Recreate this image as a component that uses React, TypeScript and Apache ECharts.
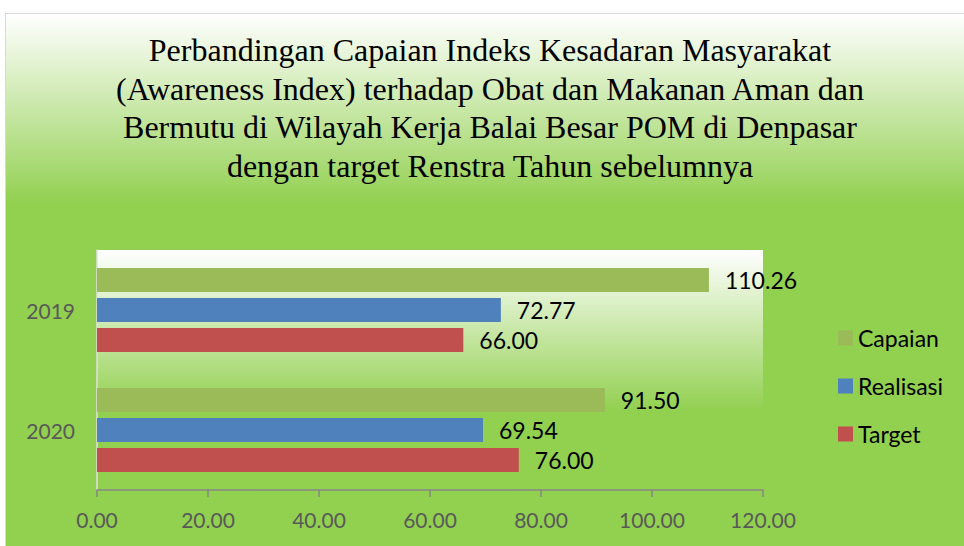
import React, { useEffect, useRef } from "react";
import * as echarts from "echarts";

const titleLines = [
  "Perbandingan Capaian Indeks Kesadaran Masyarakat",
  "(Awareness Index) terhadap Obat dan Makanan Aman dan",
  "Bermutu di Wilayah Kerja Balai Besar POM di Denpasar",
  "dengan target Renstra Tahun sebelumnya",
];
const categories = ["2020", "2019"];
const seriesNames = ["Capaian", "Realisasi", "Target"];
const capaian = [91.5, 110.26];
const realisasi = [69.54, 72.77];
const target = [76.0, 66.0];
const seriesColors = ["#9BBB59", "#4F81BD", "#C0504D"];

export default function App() {
  const ref = useRef<HTMLDivElement>(null);
  useEffect(() => {
    if (!ref.current) return;
    const chart = echarts.init(ref.current, undefined, { renderer: "svg" });
    const values = [capaian, realisasi, target];
    const font = "Lato";
    chart.setOption({
      animation: false,
      backgroundColor: "#ffffff",
      graphic: [
        {
          type: "rect",
          z: -10,
          silent: true,
          shape: { x: 5.5, y: 13.5, width: 980, height: 560 },
          style: {
            fill: new echarts.graphic.LinearGradient(0, 0, 0, 1, [
              { offset: 0, color: "#ffffff" },
              { offset: 0.34, color: "#92D050" },
              { offset: 1, color: "#92D050" },
            ]),
            stroke: "#d9d9d9",
            lineWidth: 1,
          },
        },
      ],
      title: {
        text: titleLines.join("\n"),
        left: 490,
        top: 31,
        padding: 0,
        textAlign: "center",
        textStyle: {
          fontFamily: "Liberation Serif",
          fontSize: 32,
          lineHeight: 38.5,
          fontWeight: "normal",
          color: "#000000",
        },
      },
      legend: {
        orient: "vertical",
        left: 833,
        top: 321,
        itemWidth: 15,
        itemHeight: 15,
        itemGap: 24,
        icon: "rect",
        data: seriesNames,
        textStyle: { fontFamily: font, fontSize: 23, lineHeight: 24, color: "#000000" },
      },
      grid: {
        left: 97,
        right: 201,
        top: 250,
        bottom: 56,
        show: true,
        borderWidth: 0,
        backgroundColor: new echarts.graphic.LinearGradient(0, 0, 0, 1, [
          { offset: 0, color: "#ffffff" },
          { offset: 0.67, color: "#92D050" },
          { offset: 1, color: "#92D050" },
        ]),
      },
      xAxis: {
        type: "value",
        min: 0,
        max: 120,
        interval: 20,
        axisLine: { show: true, lineStyle: { color: "#868686", width: 1.5 } },
        axisTick: { show: true, length: 7, lineStyle: { color: "#868686", width: 1.5 } },
        splitLine: { show: false },
        axisLabel: {
          margin: 19,
          fontFamily: font,
          fontSize: 21,
          color: "#595959",
          formatter: (v: number) => v.toFixed(2),
        },
      },
      yAxis: {
        type: "category",
        data: categories,
        axisLine: { show: true, lineStyle: { color: "#e0e0e0", width: 1.5 } },
        axisTick: { show: false },
        axisLabel: { margin: 22, fontFamily: font, fontSize: 21, color: "#595959" },
      },
      series: seriesNames.map((name, i) => ({
        name,
        type: "bar",
        data: values[i],
        barCategoryGap: "30%",
        barGap: "25%",
        itemStyle: { color: seriesColors[i] },
        label: {
          show: true,
          position: "right",
          distance: 16,
          fontFamily: font,
          fontSize: 23,
          color: "#000000",
          formatter: (p: any) => Number(p.value).toFixed(2),
        },
      })),
    });
    return () => chart.dispose();
  }, []);
  return (
    <div
      ref={ref}
      style={{ position: "fixed", left: 0, top: 0, width: 964, height: 546 }}
    />
  );
}
